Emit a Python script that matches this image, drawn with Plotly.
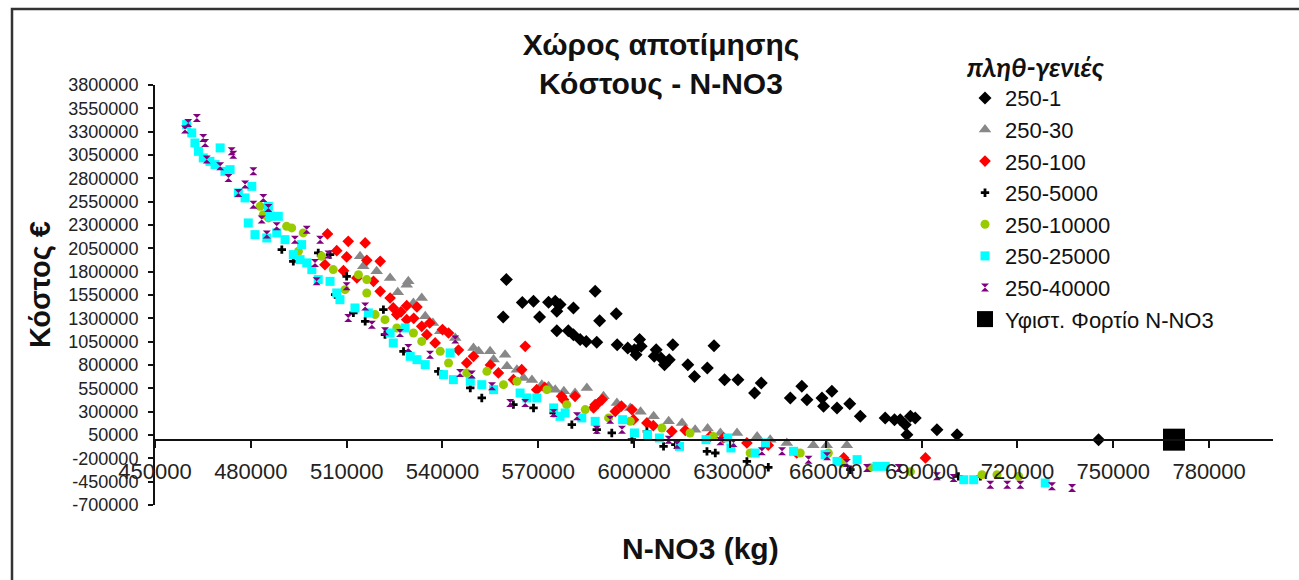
import plotly.graph_objects as go

# ---------------- data ----------------
x_250_1 = [560000, 559000, 565000, 568500, 570400, 573200, 575300, 576800, 575800, 581000,
           575800, 579400, 581000, 583100, 585000, 587800, 589200, 588300, 594400, 594700,
           598000, 600100, 601700, 602200, 600600, 606900, 606300, 608400, 612100, 611000,
           609500, 616800, 618900, 622900, 625000, 628300, 632500, 639800, 637700, 648900,
           652500, 654100, 658800, 661900, 659300, 663500, 667500, 670800, 678600, 683300,
           686500, 684900, 685400, 694800, 701100, 745400, 681500, 688000]
y_250_1 = [1715000, 1315000, 1470000, 1482000, 1315000, 1471000, 1482000, 1447000, 1375000, 1411000,
           1168000, 1168000, 1125000, 1072000, 1053000, 1589000, 1275000, 1043000, 1350000, 1018000,
           983000, 964000, 1072000, 1000000, 911000, 964000, 893000, 876000, 1018000, 857000,
           804000, 804000, 678000, 768000, 1007000, 643000, 643000, 608000, 500000, 447000,
           571000, 429000, 447000, 518000, 357000, 340000, 386000, 250000, 233000, 214000,
           250000, 161000, 54000, 107000, 54000, 0, 214000, 232000]

x_250_30 = [514200, 515200, 519400, 523600, 528800, 529300, 533500, 530900, 534600, 539300,
            549700, 551300, 554900, 559600, 560200, 563300, 565400, 571100, 573200, 575300,
            581500, 585200, 590400, 594600, 598800, 606100, 610800, 615000, 619100, 627000,
            632200, 638500, 642600, 647800, 656100, 660300, 666600,
            526000, 537000, 544000, 556000, 568000, 578000, 602000, 623000]
y_250_30 = [1964000, 1857000, 1804000, 1733000, 1661000, 1696000, 1518000, 1465000, 1321000, 1161000,
            983000, 946000, 946000, 911000, 786000, 750000, 661000, 589000, 571000, 536000,
            500000, 554000, 464000, 393000, 340000, 250000, 196000, 179000, 107000, 72000,
            72000, 35000, 0, -35000, -60000, -60000, -60000,
            1580000, 1250000, 1090000, 860000, 640000, 520000, 300000, 120000]

x_250_100 = [504000, 506900, 510500, 510000, 515800, 516300, 520500, 509000, 503200, 513200,
             518400, 520500, 523600, 524600, 528800, 532000, 525700, 528800, 533500, 535100,
             541900, 537700, 549700, 547600, 565900, 557500, 564800, 562200, 569500, 577900,
             581500, 588800, 587300, 599300, 577300, 587800, 594100, 599800, 604000, 611800,
             623800, 635300, 650900, 665600, 691200,
             527000, 531000, 536000, 540000, 545000, 555000, 572000, 590000, 596000, 606000,
             616000, 628000, 642000]
y_250_100 = [2204000, 2025000, 2125000, 1958000, 2108000, 1921000, 1911000, 1811000, 1875000, 1733000,
             1696000, 1589000, 1518000, 1411000, 1436000, 1422000, 1340000, 1286000, 1214000, 1125000,
             1143000, 1036000, 893000, 822000, 1000000, 715000, 750000, 643000, 536000, 429000,
             464000, 393000, 340000, 322000, 464000, 375000, 303000, 214000, 179000, 89000,
             35000, -35000, -143000, -196000, -196000,
             1370000, 1300000, 1250000, 1180000, 960000, 800000, 560000, 430000, 360000, 150000,
             100000, 20000, -60000]

x_250_5000 = [489700, 493300, 501100, 504800, 506400, 510000, 512100, 515800, 521500, 522000,
              527800, 538700, 548700, 552300, 562200, 568500, 574800, 580500, 588300, 593000,
              599300, 604000, 609200, 612900, 622800, 625400, 635300, 642000, 667700, 701500,
              708400]
y_250_5000 = [2036000, 1911000, 2001000, 1983000, 1554000, 1750000, 1358000, 1268000, 1393000, 1125000,
              946000, 732000, 554000, 447000, 375000, 340000, 286000, 161000, 107000, 72000,
              0, 89000, -72000, -54000, -125000, -143000, -233000, -296000, -322000, -393000,
              -393000]

x_250_10000 = [482900, 483900, 485500, 491200, 492800, 496400, 494900, 502200, 505800, 509500,
               513700, 516300, 516300, 518900, 522000, 525700, 530900, 533500, 539300, 541900,
               547600, 553900, 559100, 563300, 572700, 578900, 584700, 592000, 598800, 608700,
               617500, 624800, 636300, 652000, 660800, 665000, 673900, 686500, 708900, 713600,
               720400]
y_250_10000 = [2500000, 2411000, 2376000, 2286000, 2269000, 2215000, 2018000, 1964000, 1822000, 1607000,
               1768000, 1715000, 1572000, 1340000, 1286000, 1197000, 1143000, 1053000, 946000, 822000,
               715000, 732000, 589000, 625000, 536000, 375000, 322000, 233000, 196000, 125000,
               72000, 35000, -143000, -143000, -143000, -250000, -300000, -343000, -375000, -375000,
               -393000]

x_250_25000 = [459900, 461500, 462500, 463600, 465100, 467200, 468800, 470400, 471900, 473500,
               476100, 478200, 480300, 485500, 486000, 488600, 479200, 481300, 485000, 488100,
               490700, 493300, 495900, 495400, 497500, 499100, 501100, 504800, 506900, 507900,
               512600, 516800, 523600, 524600, 528300, 529900, 532000, 534600, 540300, 543400,
               542400, 548700, 552300, 556000, 564300, 566400, 569500, 574800, 578400, 576800,
               583600, 587800, 596400, 600100, 604200, 607900, 614200, 622500, 629300, 630300,
               637900, 641100, 649900, 659800, 663500, 669800, 676000, 678600, 703200, 706300,
               728700]
y_250_25000 = [3376000, 3287000, 3179000, 3089000, 3019000, 2982000, 2947000, 3126000, 2875000, 2893000,
               2644000, 2590000, 2714000, 2500000, 2393000, 2393000, 2322000, 2197000, 2161000, 2215000,
               2143000, 1983000, 2090000, 1929000, 1894000, 1822000, 1715000, 1696000, 1572000, 1500000,
               1411000, 1358000, 1143000, 1036000, 1197000, 893000, 857000, 804000, 697000, 643000,
               929000, 625000, 589000, 536000, 500000, 447000, 447000, 340000, 286000, 250000,
               233000, 196000, 214000, 72000, 54000, 18000, -72000, 0, 18000, -89000,
               -143000, -35000, -125000, -161000, -233000, -214000, -286000, -286000, -429000, -429000,
               -464000]

x_250_40000 = [460400, 463100, 459400, 465100, 465700, 474000, 474500, 466200, 470400, 473000,
               480800, 478200, 476100, 483900, 480800, 485500, 483400, 488100, 485000, 497500,
               501700, 493800, 504300, 500100, 500600, 510000, 515800, 510500, 517900, 522000,
               526700, 529300, 536100, 544000, 545500, 549200, 555500, 561200, 565900, 574800,
               582100, 588300, 592500, 596200, 610800, 613400, 627000, 631100, 640000, 646300,
               654600, 660400, 666600, 672900, 682800, 694800, 700000, 711500, 716800, 720900,
               730800, 737100]
y_250_40000 = [3394000, 3447000, 3322000, 3233000, 3179000, 3089000, 3054000, 3001000, 2929000, 2804000,
               2875000, 2733000, 2644000, 2590000, 2518000, 2483000, 2358000, 2286000, 2197000, 2250000,
               2143000, 2143000, 1983000, 1894000, 1696000, 1643000, 1428000, 1304000, 1232000, 1161000,
               1143000, 983000, 911000, 1072000, 715000, 697000, 571000, 393000, 393000, 286000,
               250000, 107000, 214000, 107000, 0, -54000, -18000, -35000, -125000, -125000,
               -214000, -179000, -250000, -303000, -303000, -393000, -410000, -482000, -482000, -482000,
               -500000, -518000]

x_max_load = [769000]
y_max_load = [0]

x_tick_values = [450000, 480000, 510000, 540000, 570000, 600000, 630000, 660000, 690000, 720000, 750000, 780000]
x_tick_labels = ["450000", "480000", "510000", "540000", "570000", "600000", "630000",
                 "660000", "690000", "720000", "750000", "780000"]
y_tick_values = [3800000, 3550000, 3300000, 3050000, 2800000, 2550000, 2300000, 2050000, 1800000,
                 1550000, 1300000, 1050000, 800000, 550000, 300000, 50000, -200000, -450000, -700000]
y_tick_labels = ["3800000", "3550000", "3300000", "3050000", "2800000", "2550000", "2300000",
                 "2050000", "1800000", "1550000", "1300000", "1050000", "800000", "550000",
                 "300000", "50000", "-200000", "-450000", "-700000"]

# ---------------- figure ----------------
FONT = "Liberation Sans, Arial, sans-serif"
X_MIN, X_MAX = 450000, 800000
Y_MIN, Y_MAX = -700000, 3800000

series = [
    ("250-1", x_250_1, y_250_1, "diamond", 10, "#000000"),
    ("250-30", x_250_30, y_250_30, "triangle-up", 11, "#888888"),
    ("250-100", x_250_100, y_250_100, "diamond", 9, "#ff0000"),
    ("250-5000", x_250_5000, y_250_5000, "cross", 7, "#000000"),
    ("250-10000", x_250_10000, y_250_10000, "circle", 9, "#99cc00"),
    ("250-25000", x_250_25000, y_250_25000, "square", 9, "#00ffff"),
    ("250-40000", x_250_40000, y_250_40000, "hourglass", 8, "#800080"),
    ("Υφιστ. Φορτίο N-NO3", x_max_load, y_max_load, "square", 22, "#000000"),
]

fig = go.Figure()
for name, xs, ys, sym, size, col in series:
    fig.add_trace(go.Scatter(
        x=xs, y=ys, mode="markers", name=name,
        marker=dict(symbol=sym, size=size, color=col, line=dict(width=0)),
    ))

W, H = 1299, 580
ML, MR, MT, MB = 155, 26, 85, 75
PW, PH = W - ML - MR, H - MT - MB


def px_x(px):
    return (px - ML) / PW


def px_y(py):
    return (H - MB - py) / PH


fig.update_layout(
    width=W, height=H,
    margin=dict(l=ML, r=MR, t=MT, b=MB, pad=0),
    paper_bgcolor="white", plot_bgcolor="white",
    font=dict(family=FONT, color="#111111"),
    title=dict(
        text="<b>Χώρος αποτίμησης<br>Κόστους - N-NO3</b>",
        x=px_x(661), xref="paper", xanchor="center",
        y=1 - 55 / H, yref="container", yanchor="middle",
        font=dict(size=30, family=FONT, color="#111111"),
    ),
    xaxis=dict(
        range=[X_MIN, X_MAX], tickvals=x_tick_values, ticktext=x_tick_labels,
        ticks="outside", ticklen=7, tickwidth=1.5, tickcolor="#111111",
        showline=True, linecolor="#111111", linewidth=2,
        showgrid=False, zeroline=False,
        anchor="free", position=(0 - Y_MIN) / (Y_MAX - Y_MIN),
        tickfont=dict(size=22, family=FONT, color="#222222"),
        ticklabelstandoff=5,
    ),
    yaxis=dict(
        range=[Y_MIN, Y_MAX], tickvals=y_tick_values, ticktext=y_tick_labels,
        ticks="outside", ticklen=5, tickwidth=1.5, tickcolor="#111111",
        showline=True, linecolor="#111111", linewidth=2,
        showgrid=False, zeroline=False,
        tickfont=dict(size=18, family=FONT, color="#222222"),
        ticklabelstandoff=6,
    ),
    legend=dict(
        x=px_x(965), y=px_y(340), xanchor="left", yanchor="bottom",
        bgcolor="rgba(0,0,0,0)",
        font=dict(size=22, family=FONT, color="#111111"),
        title=dict(text="<b><i>πληθ-γενιές</i></b>",
                   font=dict(size=27, family="Lato, Open Sans, sans-serif", color="#111111")),
        itemsizing="trace",
        tracegroupgap=0,
    ),
    showlegend=True,
)

fig.add_annotation(
    text="<b>Κόστος €</b>", x=px_x(40), y=px_y(285), xref="paper", yref="paper",
    textangle=-90, showarrow=False, xanchor="center", yanchor="middle",
    font=dict(size=29, family=FONT, color="#111111"),
)
fig.add_annotation(
    text="<b>N-NO3 (kg)</b>", x=px_x(700), y=px_y(548), xref="paper", yref="paper",
    showarrow=False, xanchor="center", yanchor="middle",
    font=dict(size=30, family=FONT, color="#111111"),
)

# outer chart frame (only top and left edges are visible in the picture)
fig.add_shape(
    type="rect", xref="paper", yref="paper",
    x0=px_x(12), x1=px_x(1400), y0=px_y(700), y1=px_y(9),
    line=dict(color="#333333", width=2.5), fillcolor="rgba(0,0,0,0)", layer="below",
)

fig.write_html("out.html")
